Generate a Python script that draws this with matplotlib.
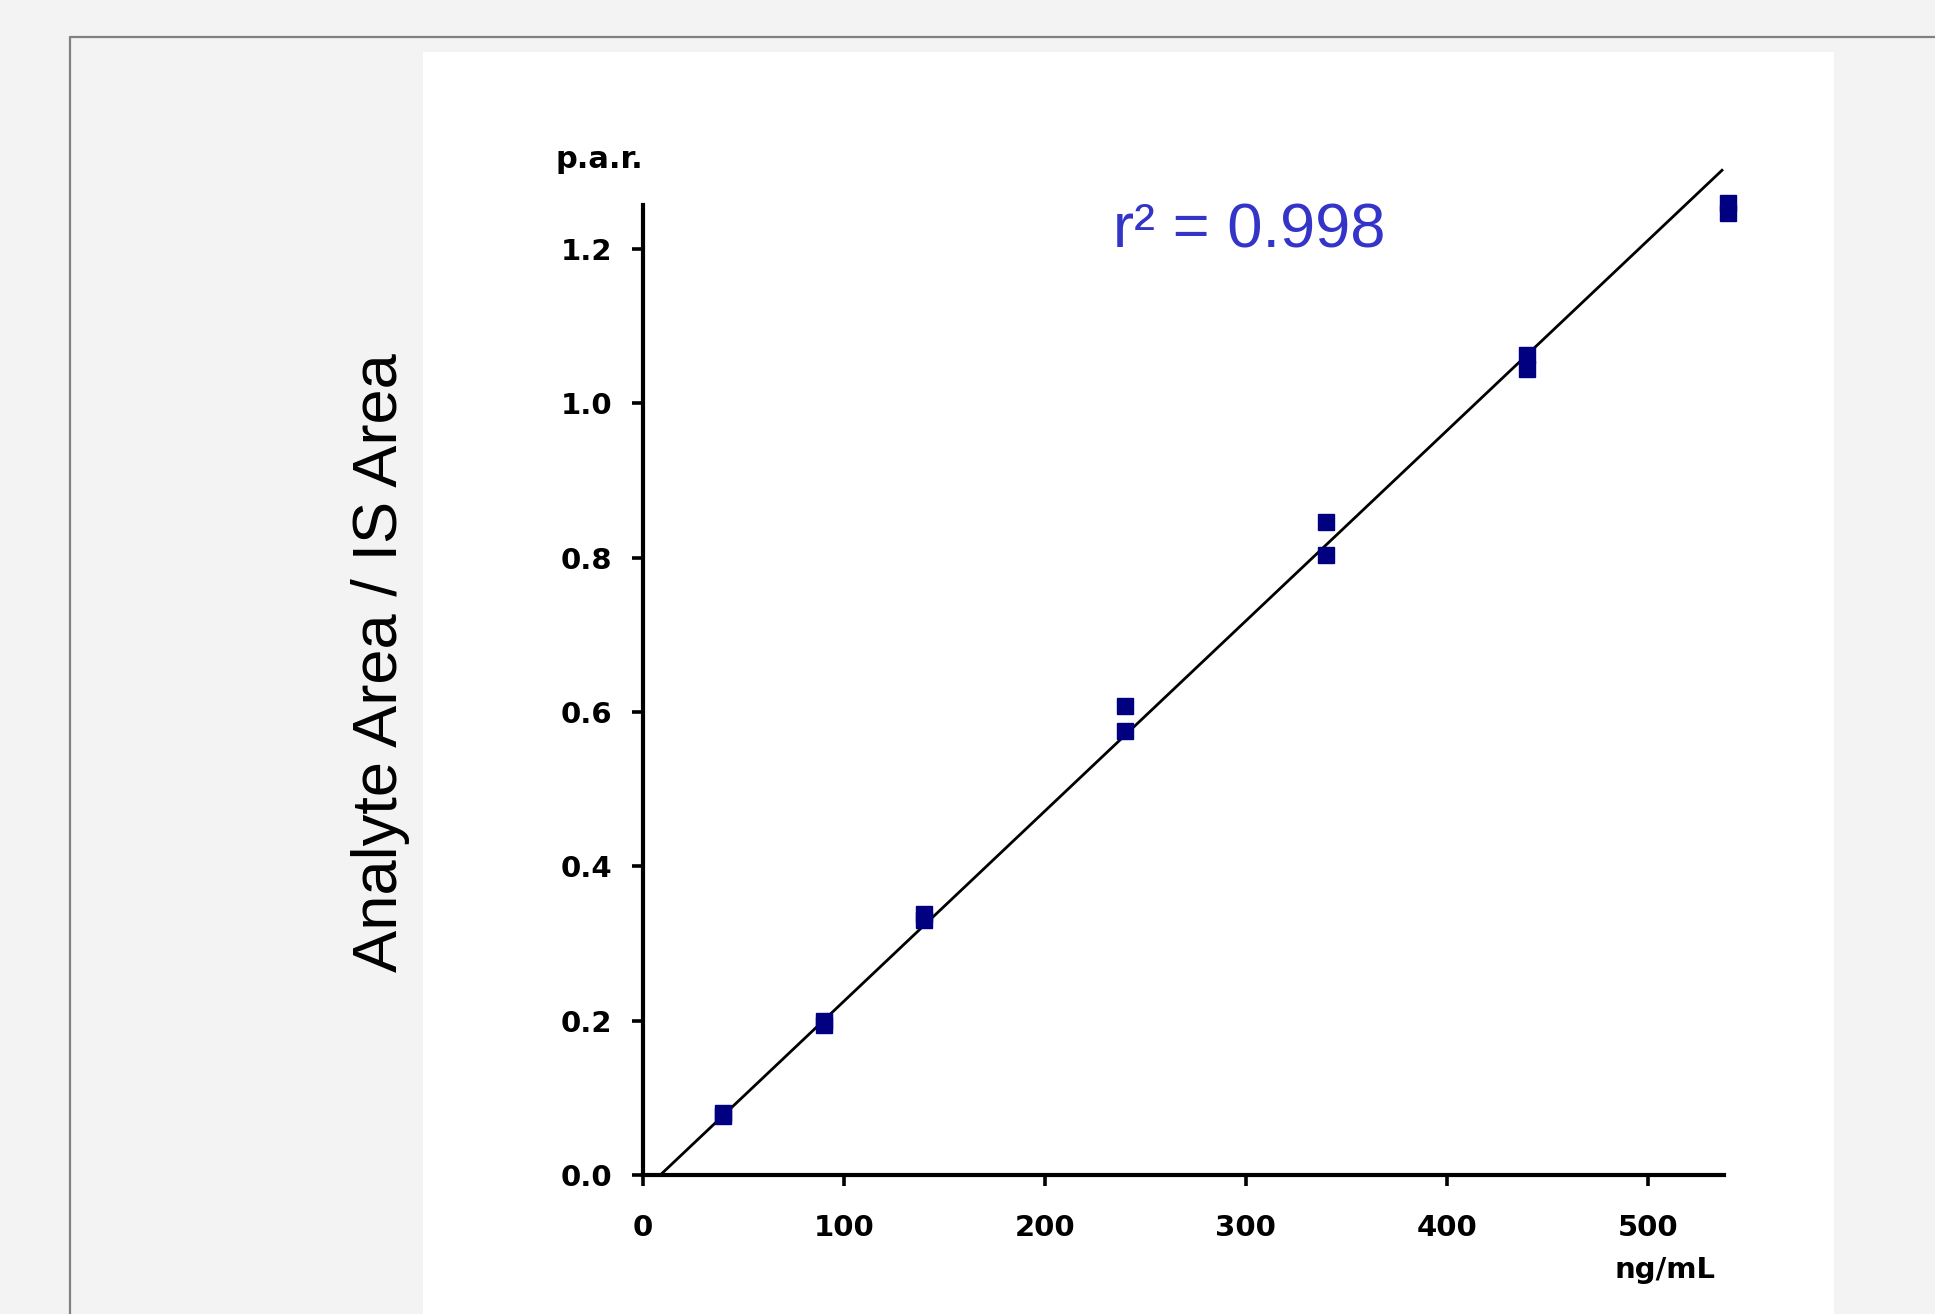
import numpy as np
import matplotlib.pyplot as plt
from matplotlib.patches import Rectangle
from matplotlib.lines import Line2D

# calibration data, two replicates per level
conc = [40, 90, 140, 240, 340, 440, 540]
rep1 = [0.080, 0.200, 0.338, 0.608, 0.846, 1.062, 1.260]
rep2 = [0.076, 0.195, 0.330, 0.576, 0.803, 1.045, 1.246]

# fitted line
fit_slope = 0.002464
fit_intercept = -0.0212
fit_range = [8.6, 537]
r2_text = "r\u00b2 = 0.998"

xticks = [0, 100, 200, 300, 400, 500]
yticks = [0.0, 0.2, 0.4, 0.6, 0.8, 1.0, 1.2]

W, H = 1935, 1314
fig = plt.figure(figsize=(W / 100, H / 100), dpi=100, facecolor='#f3f3f3')

# white panel and grey frame
fig.patches.append(Rectangle((423 / W, 0), (1834 - 423) / W, 1 - 52 / H,
                             transform=fig.transFigure, facecolor='white',
                             edgecolor='none', zorder=-5))
fig.lines.append(Line2D([70 / W, 70 / W, 1], [0, 1 - 37 / H, 1 - 37 / H],
                        transform=fig.transFigure, color='#808080', lw=1.6,
                        zorder=-4))

ax = fig.add_axes([643 / W, 139 / H, (1724 - 643) / W, (1175 - 205) / H])
ax.set_zorder(2)
ax.set_facecolor('none')
ax.set_xlim(0, 538)
ax.set_ylim(0, 1.257)

for s in ['top', 'right']:
    ax.spines[s].set_visible(False)
for s in ['left', 'bottom']:
    ax.spines[s].set_linewidth(3)
    ax.spines[s].set_color('black')

ax.set_xticks(xticks)
ax.set_xticklabels([str(v) for v in xticks], fontweight='bold')
ax.set_yticks(yticks)
ax.set_yticklabels(['%.1f' % v for v in yticks], fontweight='bold')
ax.tick_params(axis='both', direction='out', length=8, width=2.6,
               labelsize=21, colors='black')
ax.tick_params(axis='x', pad=20)
ax.tick_params(axis='y', pad=14)

fx = np.array(fit_range)
ax.plot(fx, fit_slope * fx + fit_intercept, color='black', lw=2,
        clip_on=False, zorder=2)

ax.plot(conc, rep1, 's', color='#000080', ms=11, clip_on=False, zorder=3)
ax.plot(conc, rep2, 's', color='#000080', ms=11, clip_on=False, zorder=3)

fig.text(555 / W, 1 - 160 / H, 'p.a.r.', fontsize=22, fontweight='bold',
         ha='left', va='center')
fig.text(1614 / W, 1 - 1270 / H, 'ng/mL', fontsize=21, fontweight='bold',
         ha='left', va='center')

fig.text(380 / W, 1 - 663 / H, 'Analyte Area / IS Area', rotation=90,
         fontsize=45.5, family='Liberation Sans', ha='center', va='center')
fig.text(1113 / W, 1 - 231 / H, r2_text, fontsize=45.5, family='Liberation Sans',
         color='#3434c8', ha='left', va='center')

fig.savefig('out.png', dpi=100, facecolor=fig.get_facecolor())
